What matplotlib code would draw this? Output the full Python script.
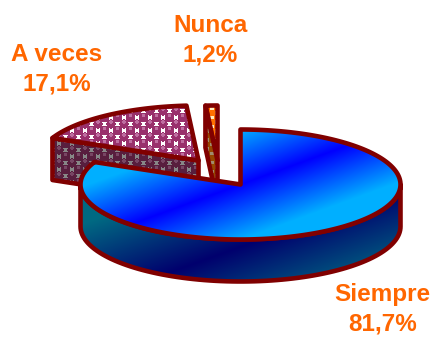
#!/usr/bin/env python3
import numpy as np
import matplotlib
matplotlib.use("Agg")
import matplotlib.pyplot as plt
from matplotlib.patches import Polygon

# Data
labels = ["Siempre", "A veces", "Nunca"]
values = [81.7, 17.1, 1.2]
value_labels = ["81,7%", "17,1%", "1,2%"]

W, H = 434, 337
RX, RY = 160, 55
DEPTH = 42
EDGE = "#800000"
TEXT_COLOR = "#ff6600"
# exploded slice centres, in pixels
centers = {"Siempre": (240, 184), "A veces": (198, 160), "Nunca": (217, 160)}
label_pos = {"Siempre": (382, 309), "A veces": (56, 69), "Nunca": (210, 40)}

yy, xx = np.mgrid[0:H, 0:W]


def rim(cx, cy, a0, a1, n=90):
    t = np.radians(np.linspace(a0, a1, n))
    return np.column_stack([cx + RX * np.cos(t), cy - RY * np.sin(t)])


def diagonal_gradient(x0, y0, dark, light, span):
    # distance from a dark diagonal band, mixed out to the light colour
    d = np.abs((xx - x0) * 0.342 + (yy - y0) * 0.94)
    f = np.clip(d / span, 0, 1)[..., None]
    return (np.array(dark) + (np.array(light) - np.array(dark)) * f) / 255


def dots(bg, fg, shine, period=13.0, r=4.6):
    # staggered balls on a plain ground, like the office pattern fill
    img = np.ones((H, W, 3)) * np.array(bg)
    u = (xx + yy) / period
    v = (xx - yy) / period
    du = (u - np.round(u)) * period
    dv = (v - np.round(v)) * period
    d = np.hypot(du, dv) / np.sqrt(2)
    img[d < r] = fg
    # small highlight on the upper part of each ball
    dy = (du - dv) / 2
    dx = (du + dv) / 2
    img[np.hypot(dx, dy + 2) < r * 0.35] = shine
    return img / 255


def paint(ax, verts, img, z):
    patch = Polygon(verts, closed=True, transform=ax.transData, fc="none", ec="none")
    ax.add_patch(patch)
    im = ax.imshow(img, extent=(-0.5, W - 0.5, H - 0.5, -0.5), zorder=z, interpolation="bilinear", aspect="auto")
    im.set_clip_path(patch)
    ax.add_patch(Polygon(verts, closed=True, fc="none", ec=EDGE, lw=3.3, joinstyle="round", zorder=z + 0.5))


def down(pts):
    return pts + np.array([0, DEPTH])


fig = plt.figure(figsize=(W / 100, H / 100), dpi=100)
ax = fig.add_axes([0, 0, 1, 1])

# clockwise from 12 o'clock
ends = 90 - np.cumsum(values) * 3.6
starts = np.concatenate([[90], ends[:-1]])
ang = {k: (s, e) for k, s, e in zip(labels, starts, ends)}

# A veces
cx, cy = centers["A veces"]
a0, a1 = ang["A veces"]
arc = rim(cx, cy, a0, a1)
apex = np.array([[cx, cy]])
side = np.vstack([arc[:1], apex, down(apex), down(arc[:1])])
paint(ax, side, dots((135, 135, 135), (88, 30, 62), (120, 70, 100)), 1)
top = np.vstack([apex, arc])
paint(ax, top, dots((255, 255, 255), (153, 48, 108), (190, 110, 160)), 2)

# Nunca
cx, cy = centers["Nunca"]
a0, a1 = ang["Nunca"]
arc = rim(cx, cy, a0, a1, 8)
apex = np.array([[cx, cy]])
side = np.vstack([arc[:1], apex, down(apex), down(arc[:1])])
top = np.vstack([apex, arc])
paint(ax, top, dots((255, 235, 190), (255, 110, 0), (255, 110, 0), period=9, r=3), 3)
paint(ax, side, dots((160, 140, 110), (150, 70, 0), (150, 70, 0), period=9, r=3), 4)

# Siempre
cx, cy = centers["Siempre"]
a0, a1 = ang["Siempre"]
wall = np.vstack([rim(cx, cy, -180, 0), down(rim(cx, cy, -180, 0))[::-1]])
paint(ax, wall, diagonal_gradient(208, 258, (0, 0, 110), (0, 105, 130), 75), 5)
arc = rim(cx, cy, a0, a1, 240)
apex = np.array([[cx, cy]])
paint(ax, np.vstack([apex, arc]), diagonal_gradient(240, 184, (0, 0, 255), (0, 175, 255), 52), 6)

ax.set_xlim(-0.5, W - 0.5)
ax.set_ylim(H - 0.5, -0.5)
ax.axis("off")

for name, val in zip(labels, value_labels):
    x, y = label_pos[name]
    ax.text(x, y, f"{name}\n{val}", ha="center", va="center", ma="center", color=TEXT_COLOR,
            fontsize=17.5, fontweight="bold", family="Liberation Sans", linespacing=1.35, zorder=10)

fig.savefig("out.png", dpi=100)
